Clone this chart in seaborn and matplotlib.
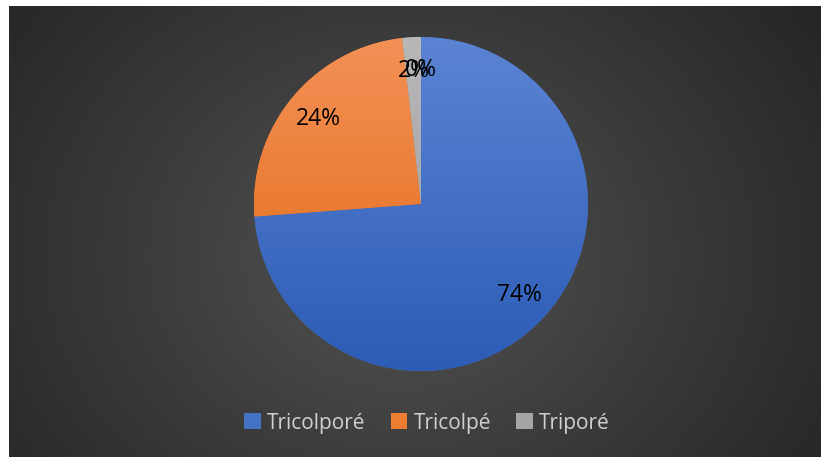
import numpy as np
import matplotlib
matplotlib.use("Agg")
import matplotlib.pyplot as plt
from matplotlib.patches import Patch
from matplotlib.colors import LinearSegmentedColormap
import seaborn as sns

# pollen aperture types (share in %)
categories = ["Tricolporé", "Tricolpé", "Triporé", ""]
shares = [73.8, 24.4, 1.8, 0.0]
legend_labels = ["Tricolporé", "Tricolpé", "Triporé"]

# top / bottom colours of each slice gradient
top_cols = ["#5B84D3", "#F39157", "#B8B8B8", "#8FA8D8"]
bot_cols = ["#2C5CB6", "#E26712", "#9A9A9A", "#2C5CB6"]
mid_cols = ["#4472C4", "#ED7D31", "#A5A5A5", "#4472C4"]

sns.set_style("dark")
plt.rcParams["font.family"] = ["Open Sans", "DejaVu Sans"]

W, H = 821, 457
fig = plt.figure(figsize=(W / 100, H / 100), dpi=100)
fig.patch.set_facecolor("white")

# dark panel with radial gradient
bg = fig.add_axes([9 / W, 0, (W - 9) / W, (H - 6) / H])
ny, nx = 300, 540
yy, xx = np.mgrid[0:ny, 0:nx]
cx, cy = nx * 0.48, ny * 0.55
d = np.sqrt(((xx - cx) / (nx * 0.62)) ** 2 + ((yy - cy) / (ny * 0.95)) ** 2)
d = np.clip(d, 0, 1)
bg_cmap = LinearSegmentedColormap.from_list("bg", ["#545454", "#3c3c3c", "#262626"])
bg.imshow(d, cmap=bg_cmap, aspect="auto", interpolation="bilinear", vmin=0, vmax=1)
bg.set_axis_off()

# pie axes
cxp, cyp, r = 421, 204, 167
ax = fig.add_axes([(cxp - r) / W, (H - cyp - r) / H, 2 * r / W, 2 * r / H])
ax.set_facecolor("none")
wedges, texts, autotexts = ax.pie(
    shares, colors=mid_cols, startangle=90, counterclock=False,
    autopct="%.0f%%", pctdistance=0.8, radius=1,
    wedgeprops=dict(linewidth=0),
    textprops=dict(color="black", fontsize=16.5),
)

# vertical gradient fill inside each wedge
grad = np.linspace(0, 1, 256).reshape(-1, 1)
for w, t, b in zip(wedges, top_cols, bot_cols):
    cm = LinearSegmentedColormap.from_list("g", [t, b])
    im = ax.imshow(grad, cmap=cm, extent=[-1, 1, -1, 1], aspect="auto",
                   interpolation="bilinear", zorder=w.get_zorder() + 0.1)
    im.set_clip_path(w)
for t in autotexts:
    t.set_zorder(5)

ax.set_xlim(-1, 1)
ax.set_ylim(-1, 1)
ax.set_aspect("equal")
ax.set_axis_off()

handles = [Patch(facecolor=c, edgecolor="none") for c in mid_cols[:3]]
fig.legend(handles, legend_labels, loc="center", bbox_to_anchor=(427 / W, (H - 423) / H),
           ncol=3, frameon=False, labelcolor="#d0d0d0", fontsize=15,
           handlelength=0.8, handleheight=0.8, handletextpad=0.3, columnspacing=1.2)

fig.savefig("out.png", dpi=100, facecolor=fig.get_facecolor())
